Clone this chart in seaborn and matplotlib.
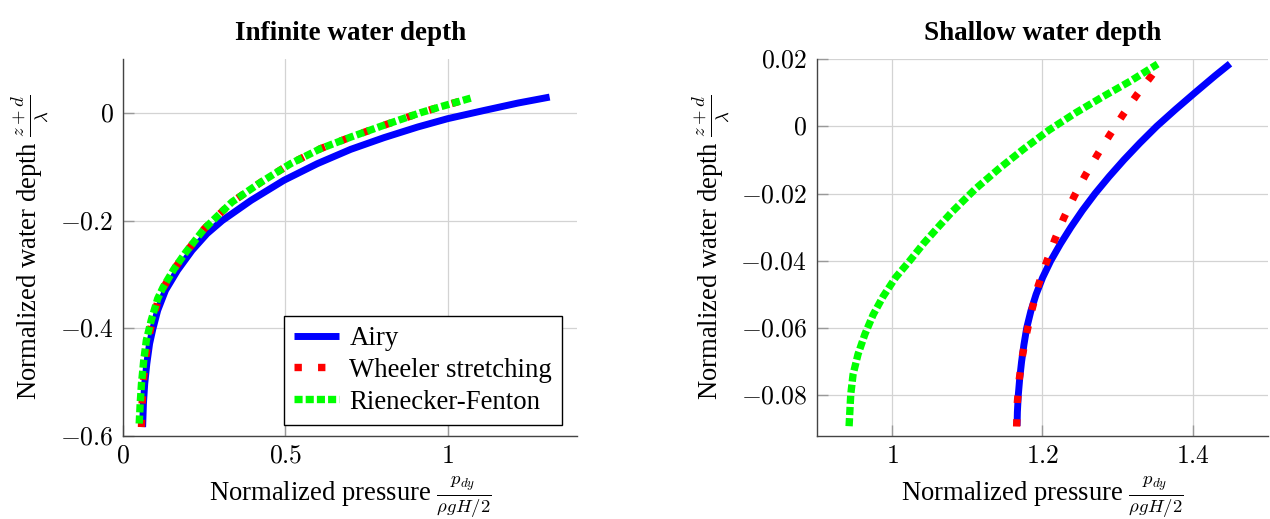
import numpy as np
import pandas as pd
import matplotlib
matplotlib.use("Agg")
import matplotlib.pyplot as plt
from matplotlib.ticker import FuncFormatter
import seaborn as sns

# infinite water depth
airy_inf_y = [-0.5835, -0.540, -0.503, -0.4657, -0.4286, -0.4015, -0.3668, -0.3296, -0.2925, -0.2553,
              -0.2243, -0.2, -0.1625, -0.1253, -0.0944, -0.0678, -0.046, -0.0263, -0.0108, 0.0046,
              0.0182, 0.0293]
airy_inf_x = [0.0595, 0.062, 0.066, 0.0725, 0.081, 0.091, 0.106, 0.130, 0.167, 0.212,
              0.258, 0.305, 0.394, 0.495, 0.598, 0.701, 0.804, 0.9075, 1.0, 1.1135,
              1.2168, 1.3146]
wheeler_inf_y = [-0.5835, -0.540, -0.503, -0.4596, -0.4225, -0.3853, -0.345, -0.3235, -0.2893, -0.2585,
                 -0.215, -0.1656, -0.1285, -0.0943, -0.0665, -0.045, -0.025, 0.0, 0.0108, 0.0265]
wheeler_inf_x = [0.056, 0.058, 0.061, 0.068, 0.076, 0.090, 0.109, 0.125, 0.158, 0.194,
                 0.250, 0.335, 0.425, 0.516, 0.608, 0.701, 0.794, 0.915, 0.975, 1.066]
rf_inf_y = [-0.577, -0.540, -0.503, -0.4596, -0.4225, -0.3853, -0.345, -0.3235, -0.2893, -0.2585,
            -0.215, -0.1656, -0.1285, -0.0943, -0.0665, -0.045, -0.025, 0.0, 0.0108, 0.0275]
rf_inf_x = [0.049, 0.052, 0.056, 0.063, 0.071, 0.086, 0.106, 0.123, 0.157, 0.193,
            0.250, 0.335, 0.425, 0.516, 0.608, 0.701, 0.794, 0.915, 0.975, 1.072]

# shallow water depth
airy_sh_y = [-0.0891, -0.085, -0.080, -0.075, -0.070, -0.065, -0.060, -0.055, -0.050, -0.045,
             -0.040, -0.035, -0.030, -0.025, -0.020, -0.015, -0.010, -0.005, 0.000, 0.005,
             0.010, 0.015, 0.0186]
airy_sh_x = [1.1662, 1.1666, 1.1678, 1.1697, 1.1722, 1.1753, 1.1790, 1.1845, 1.1915, 1.2002,
             1.2110, 1.2238, 1.2379, 1.2532, 1.2700, 1.2885, 1.3083, 1.3295, 1.3520, 1.3770,
             1.4030, 1.4295, 1.4495]
wheeler_sh_y = [-0.0893, -0.0821, -0.0751, -0.0680, -0.0610, -0.0542, -0.0474, -0.0404, -0.0337,
                -0.0273, -0.0209, -0.0147, -0.0085, -0.0025, 0.0034, 0.0093, 0.0150, 0.0185]
wheeler_sh_x = [1.1656, 1.1666, 1.1692, 1.1735, 1.1794, 1.1864, 1.1943, 1.2053, 1.2164,
                1.2283, 1.242, 1.2566, 1.2729, 1.2897, 1.307, 1.3254, 1.345, 1.356]
rf_sh_y = [-0.0892, -0.0798, -0.0738, -0.0678, -0.0618, -0.0560, -0.0506, -0.0450, -0.0400, -0.0348,
           -0.0298, -0.0255, -0.0187, -0.0126, -0.0067, -0.0011, 0.0040, 0.0088, 0.01345, 0.0185]
rf_sh_x = [0.9427, 0.9449, 0.948, 0.9546, 0.9638, 0.9748, 0.988, 1.0045, 1.0234, 1.042,
           1.062, 1.0795, 1.1104, 1.1422, 1.1753, 1.2089, 1.2442, 1.2804, 1.3171, 1.3532]

labels = ["Airy", "Wheeler stretching", "Rienecker-Fenton"]
titles = ["Infinite water depth", "Shallow water depth"]
xlab = r"Normalized pressure $\frac{p_{dy}}{\rho g H/2}$"
ylab = r"Normalized water depth $\frac{z+d}{\lambda}$"

sns.set_style("ticks")
plt.rcParams['font.family'] = ['Liberation Serif', 'DejaVu Serif']
plt.rcParams['mathtext.fontset'] = 'cm'
plt.rcParams['text.color'] = 'black'
plt.rcParams['axes.labelcolor'] = 'black'
fs = 18.5
lfs = 19.2

fig = plt.figure(figsize=(12.7, 5.19), dpi=100)
ax1 = fig.add_axes([0.0971, 0.160, 0.3575, 0.7263])
ax2 = fig.add_axes([0.6433, 0.160, 0.3551, 0.7263])

styles = [dict(color="#0000ff", lw=5.0, linestyle="-"),
          dict(color="#ff0000", lw=5.3, linestyle=(0, (1.0, 2.2))),
          dict(color="#00ff00", lw=5.3, linestyle=(0, (1.1, 0.42)))]

sets = [[(airy_inf_x, airy_inf_y), (wheeler_inf_x, wheeler_inf_y), (rf_inf_x, rf_inf_y)],
        [(airy_sh_x, airy_sh_y), (wheeler_sh_x, wheeler_sh_y), (rf_sh_x, rf_sh_y)]]

fmt = FuncFormatter(lambda v, p: "$%g$" % round(v, 4))

for ax, series, title in zip([ax1, ax2], sets, titles):
    for (xs, ys), st, lab in zip(series, styles, labels):
        df = pd.DataFrame({"x": xs, "y": ys})
        sns.lineplot(data=df, x="x", y="y", ax=ax, sort=False, estimator=None,
                     label=lab, solid_capstyle="butt", **st)
    ax.set_title(title, fontsize=19.5, fontweight="bold", pad=14, color="black")
    ax.set_xlabel(xlab, fontsize=lfs, labelpad=5)
    ax.set_ylabel(ylab, fontsize=lfs, labelpad=7)
    ax.grid(True, color="#d3d3d3", lw=0.9)
    ax.set_axisbelow(True)
    for s in ["top", "right"]:
        ax.spines[s].set_visible(False)
    for s in ["left", "bottom"]:
        ax.spines[s].set_color("#444444")
        ax.spines[s].set_linewidth(1.0)
    ax.tick_params(direction="in", length=8, width=1, color="#999999", labelcolor="black",
                   labelsize=fs, pad=7)
    ax.xaxis.set_major_formatter(fmt)
    ax.yaxis.set_major_formatter(fmt)

ax1.set_xlim(0, 1.4)
ax1.set_ylim(-0.6, 0.1)
ax1.set_xticks([0, 0.5, 1])
ax1.set_yticks([-0.6, -0.4, -0.2, 0])
ax2.set_xlim(0.9, 1.5)
ax2.set_ylim(-0.0921, 0.02)
ax2.set_xticks([1, 1.2, 1.4])
ax2.set_yticks([-0.08, -0.06, -0.04, -0.02, 0, 0.02])

leg = ax1.legend(loc="lower right", bbox_to_anchor=(0.967, 0.029), fontsize=19.3,
                 frameon=True, fancybox=False, framealpha=1, edgecolor="black",
                 handlelength=1.68, handletextpad=0.38, labelspacing=0.26,
                 borderpad=0.38, borderaxespad=0)
leg.get_frame().set_linewidth(1.0)
ax2.get_legend().remove()

fig.savefig("out.png", dpi=100)
